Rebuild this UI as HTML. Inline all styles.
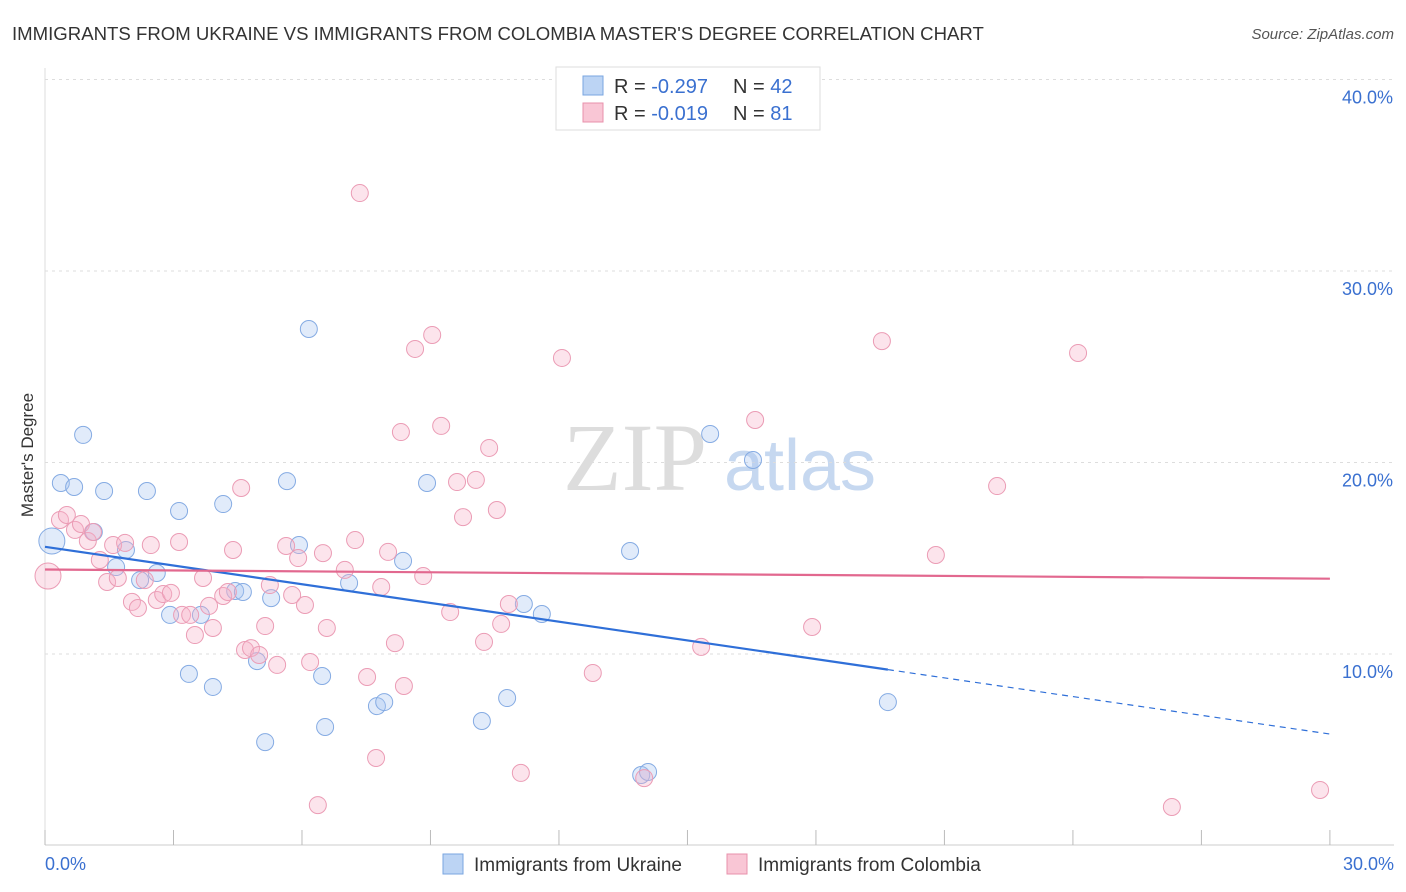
<!DOCTYPE html>
<html><head><meta charset="utf-8"><style>
body{margin:0;background:#fff;font-family:"Liberation Sans",sans-serif;}
svg{display:block}
</style></head><body>
<svg id="chart" width="1406" height="892" xmlns="http://www.w3.org/2000/svg">
<text x="12" y="40" font-size="18.6" fill="#333">IMMIGRANTS FROM UKRAINE VS IMMIGRANTS FROM COLOMBIA MASTER'S DEGREE CORRELATION CHART</text>
<text x="1394" y="39" font-size="15" fill="#555" text-anchor="end" font-style="italic">Source: ZipAtlas.com</text>
<text x="0" y="0" transform="translate(33,455) rotate(-90)" font-size="17" fill="#333" text-anchor="middle">Master's Degree</text>
<g><text x="635" y="490" font-size="96" fill="#ddd" text-anchor="middle" font-family="Liberation Serif,serif">ZIP</text><text x="800" y="490" font-size="72" fill="#c6d8f0" text-anchor="middle">atlas</text></g>
<g id="grid"></g><g id="marks"></g>
<g>
<rect x="556" y="67" width="264" height="63" fill="#fff" stroke="#ddd"/>
<rect x="583" y="76" width="20" height="19" fill="#bcd4f4" stroke="#7aa6e0"/>
<rect x="583" y="103" width="20" height="19" fill="#f9c6d5" stroke="#e890ab"/>
<text x="614" y="93" font-size="20" fill="#333">R = <tspan fill="#3a70d0">-0.297</tspan><tspan x="733">N = </tspan><tspan fill="#3a70d0">42</tspan></text>
<text x="614" y="120" font-size="20" fill="#333">R = <tspan fill="#3a70d0">-0.019</tspan><tspan x="733">N = </tspan><tspan fill="#3a70d0"> 81</tspan></text>
</g>
<g>
<rect x="443" y="854" width="20" height="20" fill="#bcd4f4" stroke="#7aa6e0"/>
<text x="474" y="871" font-size="19" fill="#333">Immigrants from Ukraine</text>
<rect x="727" y="854" width="20" height="20" fill="#f9c6d5" stroke="#e890ab"/>
<text x="758" y="871" font-size="19" fill="#333">Immigrants from Colombia</text>
</g>
</svg>
<script>
const yTicks=[10,20,30,40];
const yTickLabels=["10.0%","20.0%","30.0%","40.0%"];
const xTicks=[0,3,6,9,12,15,18,21,24,27,30];
const ukrX=[0.16,0.89,0.37,0.68,1.38,2.38,1.14,1.89,1.66,2.22,2.61,3.13,4.16,2.92,3.64,3.36,3.92,4.44,4.62,5.28,4.95,5.14,5.65,6.16,5.93,6.47,6.54,7.10,7.75,7.92,8.36,8.92,10.20,10.79,11.18,11.60,13.66,13.92,14.08,15.53,16.53,19.68];
const ukrY=[15.9,21.44,18.93,18.72,18.51,18.51,16.37,15.43,14.54,13.86,14.23,17.47,17.83,12.04,12.04,8.96,8.28,13.29,13.24,12.92,9.63,5.40,19.03,26.97,15.69,8.85,6.19,13.71,7.28,7.49,14.86,18.93,6.50,7.70,12.61,12.09,15.38,3.68,3.84,21.49,20.13,7.49];
const colX=[0.07,0.35,0.51,0.70,0.84,1.00,1.12,1.28,1.45,1.59,1.70,1.87,2.03,2.17,2.33,2.47,2.61,2.76,2.94,3.13,3.20,3.39,3.50,3.69,3.83,3.92,4.16,4.27,4.39,4.58,4.67,4.81,5.00,5.14,5.25,5.42,5.63,5.77,5.91,6.07,6.19,6.37,6.49,6.58,7.00,7.24,7.35,7.52,7.73,7.85,8.01,8.17,8.31,8.38,8.64,8.83,9.04,9.25,9.46,9.62,9.76,10.06,10.25,10.37,10.55,10.65,10.83,11.11,12.07,12.79,13.99,15.32,16.58,17.91,19.54,20.80,22.23,24.12,26.31,29.77];
const colY=[14.07,17.00,17.26,16.48,16.79,15.90,16.37,14.91,13.76,15.69,13.97,15.80,12.72,12.40,13.86,15.69,12.82,13.13,13.19,15.85,12.04,12.04,10.99,13.97,12.51,11.36,13.03,13.24,15.43,18.67,10.21,10.31,9.95,11.46,13.60,9.43,15.64,13.08,15.01,12.56,9.58,2.11,15.27,11.36,14.39,15.95,34.07,8.80,4.57,13.50,15.33,10.57,21.59,8.33,25.93,14.07,26.66,21.91,12.19,18.98,17.15,19.09,10.63,20.76,17.52,11.57,12.61,3.79,25.46,9.01,3.52,10.37,22.22,11.41,26.34,15.17,18.77,25.72,2.01,2.90];
const X=v=>45+v*42.83, Y=v=>654-(v-10)*19.15;
const NS="http://www.w3.org/2000/svg";
const grid=document.getElementById('grid'), marks=document.getElementById('marks');
function mk(tag,attrs,parent){const e=document.createElementNS(NS,tag);for(const k in attrs)e.setAttribute(k,attrs[k]);parent.appendChild(e);return e;}
yTicks.forEach((t,i)=>{
 const l=mk('line',{x1:45,x2:1394,y1:Y(t),y2:Y(t),stroke:'#ddd','stroke-dasharray':'3,4'},grid);
 
 
 const tx=mk('text',{x:1393,y:Y(t)+24,'font-size':18,fill:'#3a70d0','text-anchor':'end'},grid);
 tx.textContent=yTickLabels[i];
 
 
});
const ax=mk('line',{x1:45,x2:1394,y1:845,y2:845,stroke:'#ccc'},grid);


const yax=mk('line',{x1:45,x2:45,y1:68,y2:845,stroke:'#ddd'},grid);


xTicks.forEach(t=>{const l=mk('line',{x1:X(t),x2:X(t),y1:830,y2:845,stroke:'#bbb'},grid);
 
 });
[[0,'0.0%','start',45],[30,'30.0%','end',1394]].forEach(a=>{const t=mk('text',{x:a[3],y:870,'font-size':18,fill:'#3a70d0','text-anchor':a[2]},grid);t.textContent=a[1];
 
 });
function reg(xs,ys){const n=xs.length;let mx=0,my=0;xs.forEach((x,i)=>{mx+=x;my+=ys[i]});mx/=n;my/=n;let sxy=0,sxx=0;xs.forEach((x,i)=>{sxy+=(x-mx)*(ys[i]-my);sxx+=(x-mx)**2});const b=sxy/sxx;return [my-b*mx,b];}
function pts(xs,ys,fill,stroke,name){xs.forEach((x,i)=>{const c=mk('circle',{cx:X(x),cy:Y(ys[i]),r:i==0?13:8.5,fill:fill,'fill-opacity':0.35,stroke:stroke,'stroke-width':1},marks);
 
 });}
pts(ukrX,ukrY,'#a9c6f0','#85abe3','ukraine-point');
pts(colX,colY,'#f6b3c8','#eb9cb5','colombia-point');
const [ua,ub]=reg(ukrX,ukrY), [ca,cb]=reg(colX,colY);
const uMax=Math.max(...ukrX);
const l1=mk('line',{x1:X(0),y1:Y(ua),x2:X(uMax),y2:Y(ua+ub*uMax),stroke:'#2f6fd8','stroke-width':2.2},marks);


const l2=mk('line',{x1:X(uMax),y1:Y(ua+ub*uMax),x2:X(30),y2:Y(ua+ub*30),stroke:'#2f6fd8','stroke-width':1.2,'stroke-dasharray':'6,5'},marks);


const l3=mk('line',{x1:X(0),y1:Y(ca),x2:X(30),y2:Y(ca+cb*30),stroke:'#e2688f','stroke-width':2.2},marks);


</script>
</body></html>
